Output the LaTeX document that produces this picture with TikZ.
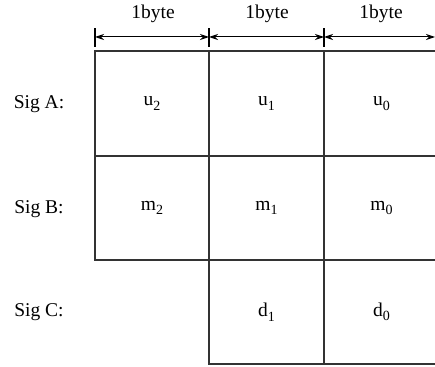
\documentclass[tikz,border=0pt]{standalone}
\usepackage{fontspec}
\setmainfont{Liberation Serif}
\usetikzlibrary{arrows.meta}
\newcommand{\sbx}[1]{\raisebox{-0.5ex}{\fontsize{14}{14}\selectfont #1}}
\begin{document}
\begin{tikzpicture}[x=1pt,y=-1pt,
  every node/.style={font=\fontsize{19.5}{22}\selectfont},
  cell/.style={draw=black!80,line width=1.6pt,inner sep=0pt},
  wa/.style={minimum width=114pt},
  wb/.style={minimum width=115pt},
  ha/.style={minimum height=105pt},
  hb/.style={minimum height=104pt},
  dim/.style={line width=1pt,{Stealth[length=9pt,width=6pt]}-{Stealth[length=9pt,width=6pt]}},
  tick/.style={line width=1.2pt}]
\useasboundingbox (0,0) rectangle (435,366);
\clip (0,0) rectangle (435,366);
% cells
\node[cell,wa,ha] (a2) at (152,103.5) {u\sbx{2}};
\node[cell,wb,ha] (a1) at (266.5,103.5) {u\sbx{1}};
\node[cell,wb,ha] (a0) at (381.5,103.5) {u\sbx{0}};
\node[cell,wa,hb] (b2) at (152,208) {m\sbx{2}};
\node[cell,wb,hb] (b1) at (266.5,208) {m\sbx{1}};
\node[cell,wb,hb] (b0) at (381.5,208) {m\sbx{0}};
\node[cell,wb,hb] (c1) at (266.5,312) {d\sbx{1}};
\node[cell,wb,hb] (c0) at (381.5,312) {d\sbx{0}};
% row labels
\node (la) at (39,104) {Sig A:};
\node (lb) at (39,209) {Sig B:};
\node (lc) at (39,312) {Sig C:};
% dimension line
\coordinate (t0) at (95,37);
\coordinate (t1) at (209,37);
\coordinate (t2) at (324,37);
\coordinate (t3) at (435,37);
\foreach \t in {t0,t1,t2}{\draw[tick] ([yshift=-10pt]\t) -- ([yshift=9pt]\t);}
\draw[dim] (t0) -- (t1);
\draw[dim] (t1) -- (t2);
\draw[dim] (t2) -- (t3);
\node (w2) at (153,14) {1byte};
\node (w1) at (267,14) {1byte};
\node (w0) at (381,14) {1byte};
\end{tikzpicture}
\end{document}
